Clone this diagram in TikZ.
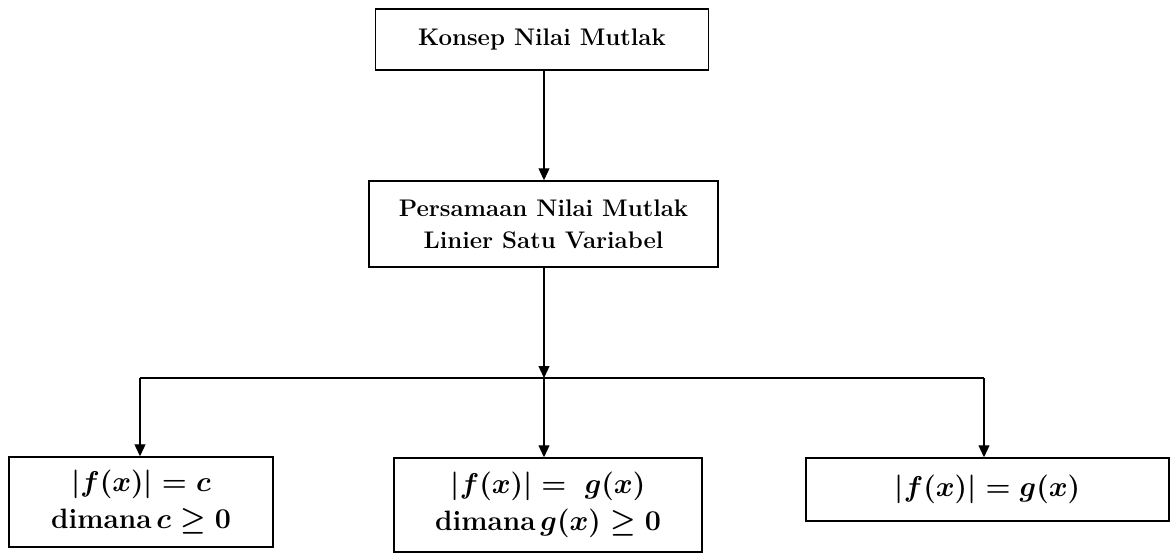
\documentclass[tikz,border=0pt]{standalone}
\usepackage{amsmath}
\usepackage{graphicx}
\usetikzlibrary{arrows.meta}
\newcommand{\mth}[1]{\scalebox{1.15}{$#1$}}
\begin{document}
\begin{tikzpicture}[x=1pt,y=-1pt,
  box/.style={draw,line width=1.5pt,align=center,inner sep=0pt,
    font=\fontsize{24}{32}\selectfont\bfseries\boldmath},
  mbox/.style={box,font=\fontsize{28}{37}\selectfont\bfseries\boldmath},
  conn/.style={line width=1.3pt},
  arr/.style={conn,-{Triangle[width=11pt,length=12pt]}}]
\useasboundingbox (0,0) rectangle (1171,554);
\node[box,minimum width=333pt,minimum height=61pt] (top) at (542,39.5) {Konsep Nilai Mutlak};
\node[box,minimum width=349pt,minimum height=86pt] (mid) at (543.5,224) {Persamaan Nilai Mutlak\\Linier Satu Variabel};
\node[mbox,minimum width=264pt,minimum height=90pt] (b1) at (141,502) {\mth{|f(x)| = c}\\dimana\,\mth{c \geq 0}};
\node[mbox,minimum width=308pt,minimum height=94pt] (b2) at (548,505) {\mth{|f(x)| = \;g(x)}\\dimana\,\mth{g(x) \geq 0}};
\node[mbox,minimum width=363pt,minimum height=63pt] (b3) at (987.5,489.5) {\mth{|f(x)| = g(x)}};
\coordinate (split) at (544,378);
\coordinate (lft) at (140,378);
\coordinate (rgt) at (984,378);
\draw[arr] (top.south -| split) -- (mid.north -| split);
\draw[arr] (mid.south -| split) -- (split);
\draw[conn] (lft) -- (rgt);
\draw[arr] (lft) -- (lft |- b1.north);
\draw[arr] (split) -- (split |- b2.north);
\draw[arr] (rgt) -- (rgt |- b3.north);
\end{tikzpicture}
\end{document}
